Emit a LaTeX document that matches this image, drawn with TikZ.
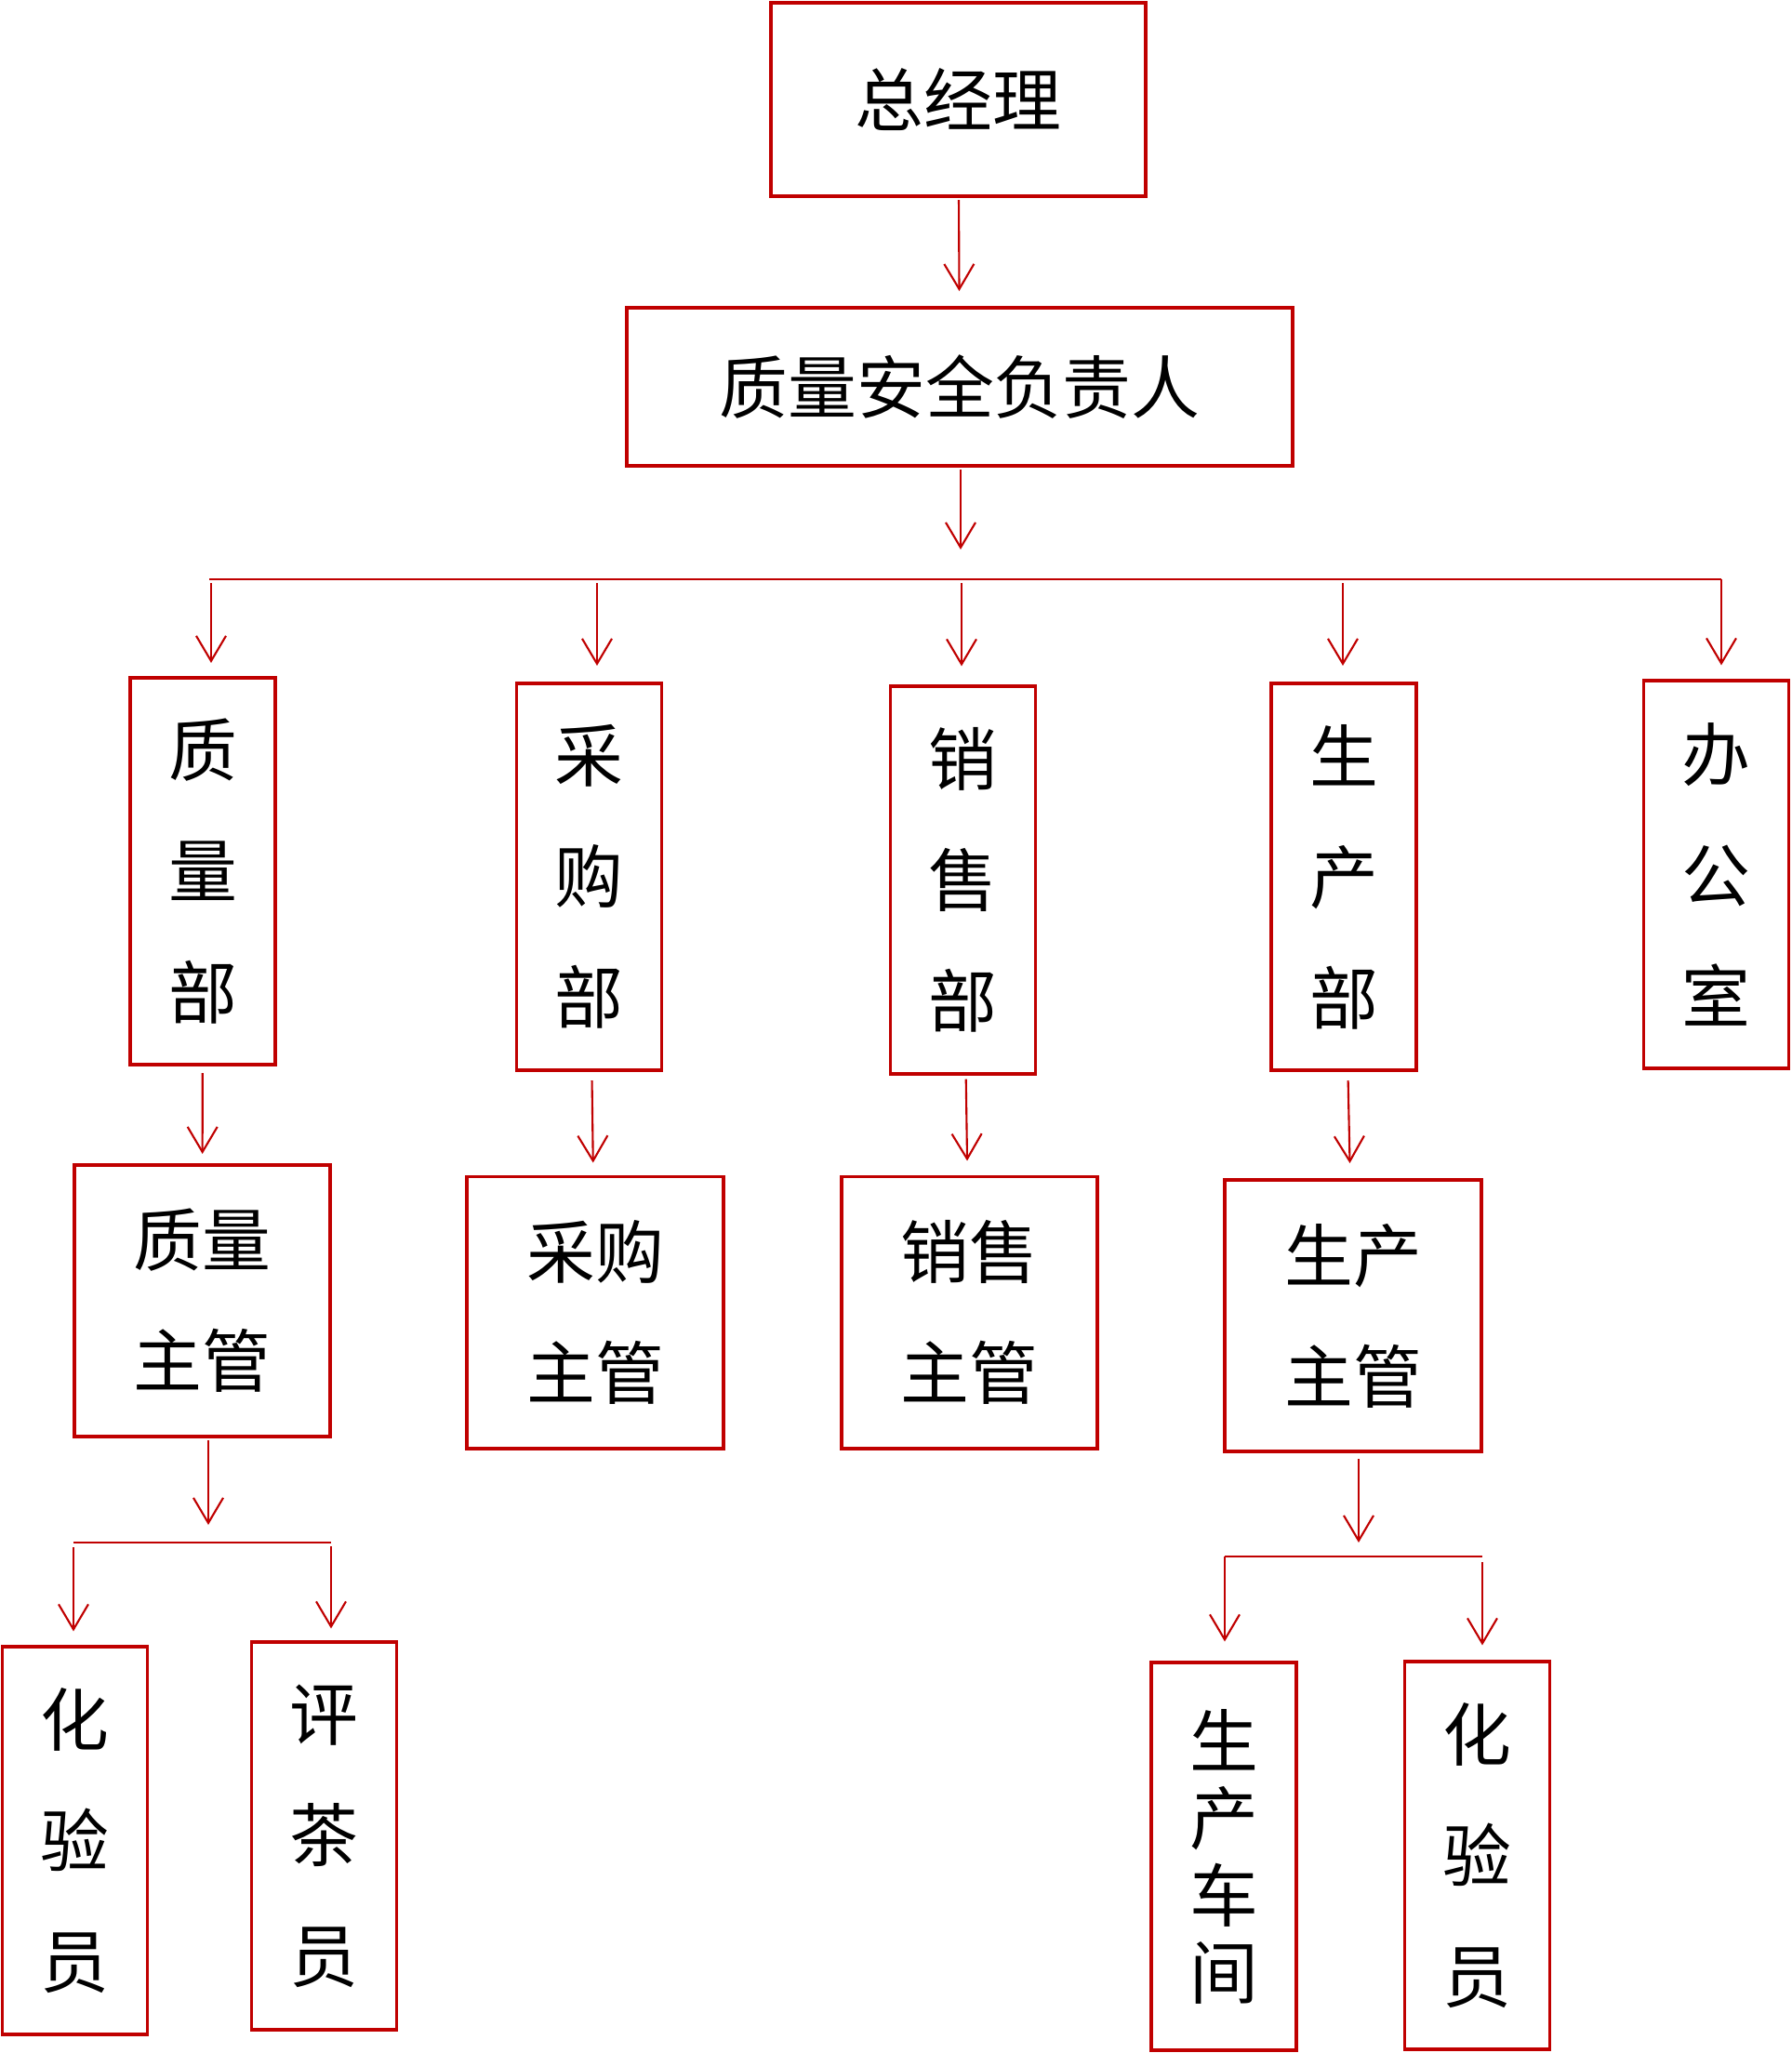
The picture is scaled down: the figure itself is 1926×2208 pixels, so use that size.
\documentclass[tikz,border=0pt]{standalone}
\usepackage{xcolor}
\definecolor{c00000}{HTML}{C00000}
\usepackage{tikz}
\usepackage{fontspec}
\newfontfamily\cjk{Noto Sans CJK SC}
\usetikzlibrary{arrows.meta}

\tikzset{
    box/.style={draw=c00000, line width=1.1pt, inner sep=0pt, align=center,
        font=\cjk\fontsize{21pt}{37pt}\selectfont},
    vbox/.style={box, minimum width=1.56cm, minimum height=4.16cm},
    hbox/.style={box, minimum width=2.75cm, minimum height=2.92cm},
    arr/.style={draw=c00000, line width=0.6pt, -{Straight Barb[length=2.7mm, width=3.2mm]}},
    bar/.style={draw=c00000, line width=0.8pt},
}

\begin{document}
\begin{tikzpicture}[x=0.01cm, y=-0.01cm]
            \useasboundingbox (0, 0) rectangle (1926, 2208);

            \node[box, minimum width=4.03cm, minimum height=2.08cm] (zjl) at (1030.5, 107) {总经理};
            \node[box, minimum width=7.16cm, minimum height=1.70cm] (aqfz) at (1032, 416) {质量安全负责人};

            \node[vbox] (zlb) at (218, 937) {质\\量\\部};
            \node[vbox] (cgb) at (633.5, 943) {采\\购\\部};
            \node[vbox] (xsb) at (1035.5, 946.5) {销\\售\\部};
            \node[vbox] (scb) at (1445, 943) {生\\产\\部};
            \node[vbox] (bgs) at (1845.5, 940.5) {办\\公\\室};

            \node[hbox] (zlzg) at (217.5, 1399) {质量\\主管};
            \node[hbox] (cgzg) at (640, 1411.5) {采购\\主管};
            \node[hbox] (xszg) at (1042.5, 1411.5) {销售\\主管};
            \node[hbox] (sczg) at (1455, 1415) {生产\\主管};

            \node[vbox] (hyy) at (80.5, 1979.5) {化\\验\\员};
            \node[vbox] (pcy) at (348.5, 1974.5) {评\\茶\\员};
            \node[vbox, font=\cjk\fontsize{21pt}{23.6pt}\selectfont] (sccj) at (1316, 1996.5) {生\\产\\车\\间};
            \node[vbox] (hyy2) at (1588.5, 1995.5) {化\\验\\员};

            \draw[arr, shorten <=0.2mm, shorten >=1.6mm] (zjl) -- (aqfz);

            % first split
            \coordinate (b1m) at (1033, 623);
            \coordinate (d1) at (227, 623);
            \coordinate (d2) at (642, 623);
            \coordinate (d3) at (1034, 623);
            \coordinate (d4) at (1444, 623);
            \coordinate (d5) at (1851, 623);
            \draw[arr, shorten <=0.2mm, shorten >=3.2mm] (aqfz.south -| b1m) -- (b1m);
            \draw[bar] (225, 623) -- (d5);
            \draw[arr, shorten <=0.4mm, shorten >=1.4mm] (d1) -- (d1 |- zlb.north);
            \draw[arr, shorten <=0.4mm, shorten >=1.7mm] (d2) -- (d2 |- cgb.north);
            \draw[arr, shorten <=0.4mm, shorten >=2.0mm] (d3) -- (d3 |- xsb.north);
            \draw[arr, shorten <=0.4mm, shorten >=1.7mm] (d4) -- (d4 |- scb.north);
            \draw[arr, shorten >=1.5mm] (d5) -- (d5 |- bgs.north);

            \draw[arr, shorten <=0.7mm, shorten >=1.0mm] (zlb) -- (zlzg);
            \draw[arr, shorten <=0.9mm, shorten >=1.3mm] (cgb) -- (cgzg);
            \draw[arr, shorten <=0.4mm, shorten >=1.5mm] (xsb) -- (xszg);
            \draw[arr, shorten <=0.9mm, shorten >=1.6mm] (scb) -- (sczg);

            % quality split
            \coordinate (b2m) at (224, 1659);
            \coordinate (b2a) at (79, 1659);
            \coordinate (b2e) at (356, 1659);
            \draw[arr, shorten <=0.2mm, shorten >=1.9mm] (zlzg.south -| b2m) -- (b2m);
            \draw[bar] (b2a) -- (b2e);
            \draw[arr, shorten <=0.5mm, shorten >=1.5mm] (b2a) -- (b2a |- hyy.north);
            \draw[arr, shorten <=0.4mm, shorten >=1.3mm] (b2e) -- (b2e |- pcy.north);

            % production split
            \coordinate (b3m) at (1461, 1674);
            \coordinate (b3a) at (1317, 1674);
            \coordinate (b3e) at (1594, 1674);
            \draw[arr, shorten <=0.6mm, shorten >=1.5mm] (sczg.south -| b3m) -- (b3m);
            \draw[bar] (b3a) -- (b3e);
            \draw[arr, shorten >=2.1mm] (b3a) -- (b3a |- sccj.north);
            \draw[arr, shorten <=0.6mm, shorten >=1.6mm] (b3e) -- (b3e |- hyy2.north);
        \end{tikzpicture}
\end{document}
